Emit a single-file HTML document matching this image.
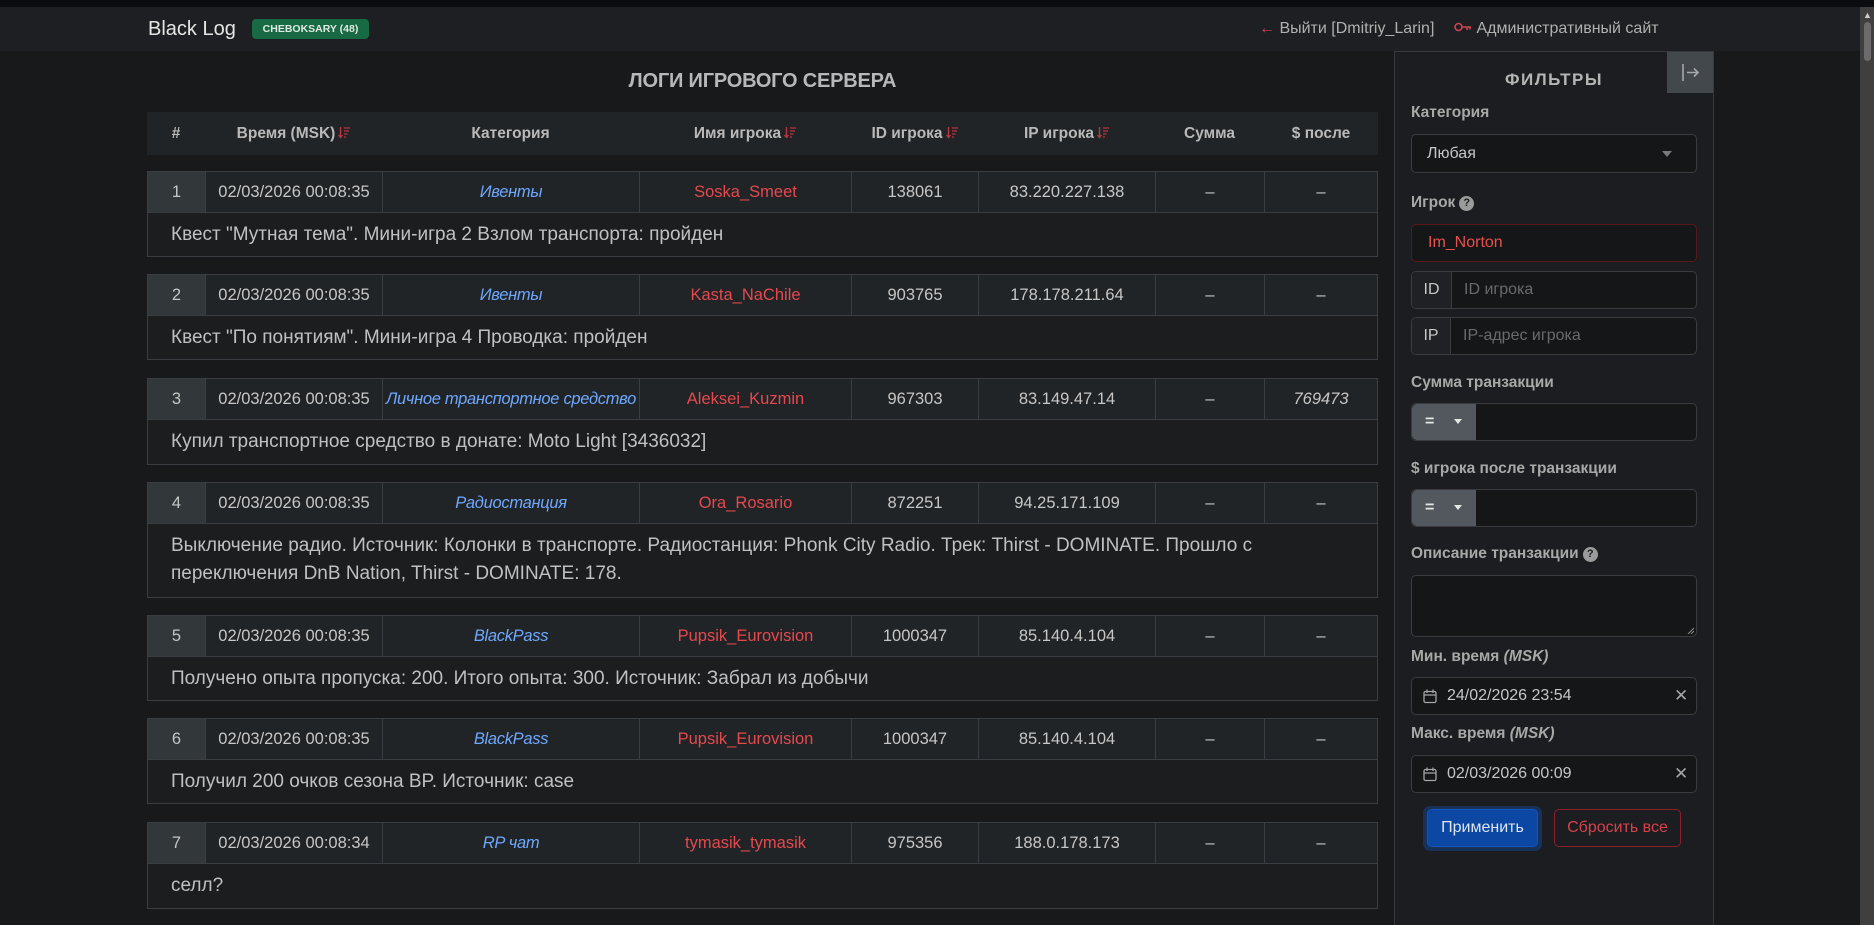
<!DOCTYPE html>
<html><head><meta charset="utf-8">
<style>
*{box-sizing:border-box;margin:0;padding:0}
body{width:1874px;height:925px;overflow:hidden;background:#0b0c10;font-family:"Liberation Sans",sans-serif;position:relative;color:#d0d0d0}
.a{position:absolute}
.win{left:0;top:7px;width:1860px;height:918px;background:#18191b;border-top-left-radius:9px;overflow:hidden}
.nav{left:0;top:0;width:1860px;height:44px;background:#1e1f22}
.sb{left:1860px;top:7px;width:14px;height:918px;background:#3f3f3f}
.thumb{left:1864px;top:22px;width:7px;height:39px;background:#6b6b6b;border-radius:4px}
.brand{left:148px;top:17px;font-size:20px;color:#e6e6e6;line-height:24px}
.badge{left:252px;top:19px;width:117px;height:20px;background:#176a43;border-radius:4px;color:#dfe9e3;font-size:10.5px;font-weight:bold;text-align:center;line-height:20px}
.nl{top:19px;font-size:16px;color:#b0b0b0;line-height:20px;white-space:nowrap}
.title{left:147px;width:1231px;top:68px;text-align:center;font-size:20px;font-weight:bold;color:#b8b8b8;letter-spacing:-0.2px;line-height:26px}
.th{left:147px;top:112px;width:1231px;height:43px;background:#212427;display:flex}
.th div{height:43px;line-height:43px;text-align:center;font-size:15.5px;font-weight:bold;color:#b9b9b9;white-space:nowrap}
.th svg{vertical-align:-1px;margin-left:3px}
.card{left:147px;width:1231px;border:1px solid #3a3d41;background:#1b1d1f}
.hr{display:flex;height:41px;border-bottom:1px solid #3a3d41;background:#212427}
.hr div{height:40px;line-height:40px;text-align:center;font-size:16.5px;color:#c6c6c6;border-right:1px solid #3a3d41;white-space:nowrap;overflow:hidden}
.hr div:last-child{border-right:none}
.hr .n{background:#32373a}
.hr .c{color:#6ea8fe;font-style:italic;letter-spacing:-0.3px}
.hr .p{color:#e5484d}
.bd{padding:0 23px;font-size:19px;color:#c0c0c0;white-space:nowrap}
.w1{width:58px}.w2{width:177px}.w3{width:257px}.w4{width:212px}.w5{width:127px}.w6{width:177px}.w7{width:109px}.w8{width:112px}
.fp{left:1394px;top:51px;width:320px;height:874px;background:#1c1d20;border:1px solid #36393d;border-bottom:none}
.cb{left:1667px;top:52px;width:46px;height:41px;background:#43484c}
.ft{left:1394px;width:320px;top:69px;text-align:center;font-size:17px;font-weight:bold;letter-spacing:1.5px;color:#b5b5b5;line-height:22px}
.lb{left:1411px;font-size:15.5px;font-weight:bold;color:#a8a8a8;line-height:20px;white-space:nowrap}
.inp{left:1411px;width:286px;background:#151618;border:1px solid #3a3c40;border-radius:5px;font-size:16px;color:#c6c6c6;white-space:nowrap}
.q{display:inline-block;width:15px;height:15px;border-radius:50%;background:#9b9b9b;color:#1c1d20;font-size:11px;font-weight:bold;text-align:center;line-height:15px;vertical-align:1px;margin-left:4px}
.addon{position:absolute;left:0;top:0;bottom:0;background:#1f2124;border-right:1px solid #3a3c40;border-radius:5px 0 0 5px;text-align:center;color:#c8c8c8}
.ph{position:absolute;color:#6a6a6a}
.eq{position:absolute;left:0;top:0;bottom:0;width:64px;background:#52585e;border-radius:5px 0 0 5px;color:#e6e6e6}
</style></head><body>
<div class="a win"></div>
<div class="a nav" style="top:7px"></div>
<div class="a sb"></div>
<div class="a thumb"></div>
<div class="a" style="left:1863px;top:10px;font-size:9px;color:#cfcfcf;line-height:10px">&#9650;</div>

<div class="a brand">Black Log</div>
<div class="a badge">CHEBOKSARY (48)</div>
<div class="a nl" style="left:1259px"><span style="color:#d2434f">&#8592;</span> Выйти [Dmitriy_Larin]</div>
<div class="a nl" style="left:1454px"><svg width="18" height="10" viewBox="0 0 18 10" style="vertical-align:1px"><circle cx="4.5" cy="5" r="3.5" fill="none" stroke="#d2434f" stroke-width="1.6"/><path d="M8 5H17M13 5V8M16 5V7.5" stroke="#d2434f" stroke-width="1.6" fill="none"/></svg> Административный сайт</div>

<div class="a title">ЛОГИ ИГРОВОГО СЕРВЕРА</div>

<div class="a th">
<div class="w1">#</div>
<div class="w2">Время (MSK)<svg width="12" height="13" viewBox="0 0 12 13"><path d="M2.5 1V11M0.5 9L2.5 11.5L4.5 9" stroke="#b8343f" stroke-width="1.4" fill="none"/><path d="M6 2H12M6 5H11M6 8H9.5M6 11H8" stroke="#b8343f" stroke-width="1.2"/></svg></div>
<div class="w3">Категория</div>
<div class="w4">Имя игрока<svg width="12" height="13" viewBox="0 0 12 13"><path d="M2.5 1V11M0.5 9L2.5 11.5L4.5 9" stroke="#b8343f" stroke-width="1.4" fill="none"/><path d="M6 2H12M6 5H11M6 8H9.5M6 11H8" stroke="#b8343f" stroke-width="1.2"/></svg></div>
<div class="w5">ID игрока<svg width="12" height="13" viewBox="0 0 12 13"><path d="M2.5 1V11M0.5 9L2.5 11.5L4.5 9" stroke="#b8343f" stroke-width="1.4" fill="none"/><path d="M6 2H12M6 5H11M6 8H9.5M6 11H8" stroke="#b8343f" stroke-width="1.2"/></svg></div>
<div class="w6">IP игрока<svg width="12" height="13" viewBox="0 0 12 13"><path d="M2.5 1V11M0.5 9L2.5 11.5L4.5 9" stroke="#b8343f" stroke-width="1.4" fill="none"/><path d="M6 2H12M6 5H11M6 8H9.5M6 11H8" stroke="#b8343f" stroke-width="1.2"/></svg></div>
<div class="w7">Сумма</div>
<div class="w8" style="width:114px">$ после</div>
</div>

<div class="a card" style="top:171px">
<div class="hr"><div class="w1 n">1</div><div class="w2">02/03/2026 00:08:35</div><div class="w3 c">Ивенты</div><div class="w4 p">Soska_Smeet</div><div class="w5">138061</div><div class="w6">83.220.227.138</div><div class="w7">–</div><div class="w8">–</div></div>
<div class="bd" style="height:43px;line-height:43px">Квест "Мутная тема". Мини-игра 2 Взлом транспорта: пройден</div>
</div>

<div class="a card" style="top:274px">
<div class="hr"><div class="w1 n">2</div><div class="w2">02/03/2026 00:08:35</div><div class="w3 c">Ивенты</div><div class="w4 p">Kasta_NaChile</div><div class="w5">903765</div><div class="w6">178.178.211.64</div><div class="w7">–</div><div class="w8">–</div></div>
<div class="bd" style="height:43px;line-height:43px">Квест "По понятиям". Мини-игра 4 Проводка: пройден</div>
</div>

<div class="a card" style="top:378px">
<div class="hr"><div class="w1 n">3</div><div class="w2">02/03/2026 00:08:35</div><div class="w3 c">Личное транспортное средство</div><div class="w4 p">Aleksei_Kuzmin</div><div class="w5">967303</div><div class="w6">83.149.47.14</div><div class="w7">–</div><div class="w8" style="font-style:italic">769473</div></div>
<div class="bd" style="height:44px;line-height:44px">Купил транспортное средство в донате: Moto Light [3436032]</div>
</div>

<div class="a card" style="top:482px">
<div class="hr"><div class="w1 n">4</div><div class="w2">02/03/2026 00:08:35</div><div class="w3 c">Радиостанция</div><div class="w4 p">Ora_Rosario</div><div class="w5">872251</div><div class="w6">94.25.171.109</div><div class="w7">–</div><div class="w8">–</div></div>
<div class="bd" style="height:73px;line-height:28px;padding-top:8px">Выключение радио. Источник: Колонки в транспорте. Радиостанция: Phonk City Radio. Трек: Thirst - DOMINATE. Прошло с<br>переключения DnB Nation, Thirst - DOMINATE: 178.</div>
</div>

<div class="a card" style="top:615px">
<div class="hr"><div class="w1 n">5</div><div class="w2">02/03/2026 00:08:35</div><div class="w3 c">BlackPass</div><div class="w4 p">Pupsik_Eurovision</div><div class="w5">1000347</div><div class="w6">85.140.4.104</div><div class="w7">–</div><div class="w8">–</div></div>
<div class="bd" style="height:43px;line-height:43px">Получено опыта пропуска: 200. Итого опыта: 300. Источник: Забрал из добычи</div>
</div>

<div class="a card" style="top:718px">
<div class="hr"><div class="w1 n">6</div><div class="w2">02/03/2026 00:08:35</div><div class="w3 c">BlackPass</div><div class="w4 p">Pupsik_Eurovision</div><div class="w5">1000347</div><div class="w6">85.140.4.104</div><div class="w7">–</div><div class="w8">–</div></div>
<div class="bd" style="height:43px;line-height:43px">Получил 200 очков сезона BP. Источник: case</div>
</div>

<div class="a card" style="top:822px">
<div class="hr"><div class="w1 n">7</div><div class="w2">02/03/2026 00:08:34</div><div class="w3 c">RP чат</div><div class="w4 p">tymasik_tymasik</div><div class="w5">975356</div><div class="w6">188.0.178.173</div><div class="w7">–</div><div class="w8">–</div></div>
<div class="bd" style="height:44px;line-height:44px">селл?</div>
</div>

<!-- Filter panel -->
<div class="a fp"></div>
<div class="a cb"><svg width="46" height="41" viewBox="0 0 46 41"><path d="M16 12V29" stroke="#a8a8a8" stroke-width="1.6"/><path d="M20 20.5H31M27 16.5L31 20.5L27 24.5" stroke="#a8a8a8" stroke-width="1.6" fill="none"/></svg></div>
<div class="a ft">ФИЛЬТРЫ</div>

<div class="a lb" style="top:103px">Категория</div>
<div class="a inp" style="top:134px;height:39px;line-height:37px;padding-left:15px">Любая<svg class="a" style="left:250px;top:16px" width="10" height="6" viewBox="0 0 10 6"><path d="M0 0H10L5 6Z" fill="#7a7a7a"/></svg></div>

<div class="a lb" style="top:193px">Игрок<span class="q">?</span></div>
<div class="a inp" style="top:224px;height:38px;line-height:36px;padding-left:16px;border-color:#5a181c;color:#e8504f">Im_Norton</div>

<div class="a inp" style="top:271px;height:38px;line-height:36px"><div class="addon" style="width:40px">ID</div><div class="ph" style="left:52px">ID игрока</div></div>
<div class="a inp" style="top:317px;height:38px;line-height:36px"><div class="addon" style="width:39px">IP</div><div class="ph" style="left:51px">IP-адрес игрока</div></div>

<div class="a lb" style="top:373px">Сумма транзакции</div>
<div class="a inp" style="top:403px;height:38px;line-height:36px"><div class="eq"><span class="a" style="left:13px;font-weight:bold">=</span><svg class="a" style="left:42px;top:15px" width="8" height="5" viewBox="0 0 8 5"><path d="M0 0H8L4 5Z" fill="#e6e6e6"/></svg></div></div>

<div class="a lb" style="top:459px">$ игрока после транзакции</div>
<div class="a inp" style="top:489px;height:38px;line-height:36px"><div class="eq"><span class="a" style="left:13px;font-weight:bold">=</span><svg class="a" style="left:42px;top:15px" width="8" height="5" viewBox="0 0 8 5"><path d="M0 0H8L4 5Z" fill="#e6e6e6"/></svg></div></div>

<div class="a lb" style="top:544px">Описание транзакции<span class="q">?</span></div>
<div class="a inp" style="top:575px;height:62px"><svg class="a" style="right:2px;bottom:2px" width="7" height="7" viewBox="0 0 7 7"><path d="M7 1L1 7M7 4L4 7" stroke="#8a8a8a" stroke-width="1"/></svg></div>

<div class="a lb" style="top:647px">Мин. время <i>(MSK)</i></div>
<div class="a inp" style="top:677px;height:38px;line-height:36px;padding-left:35px">24/02/2026 23:54<svg class="a" style="left:11px;top:11px" width="14" height="15" viewBox="0 0 14 15"><rect x="1" y="2.5" width="12" height="11" rx="1.5" fill="none" stroke="#a5a5a5" stroke-width="1.3"/><path d="M1 6H13M4 0.5V4M10 0.5V4" stroke="#a5a5a5" stroke-width="1.3"/></svg><span class="a" style="left:262px;color:#a5a5a5;font-size:17px">&#10005;</span></div>

<div class="a lb" style="top:724px">Макс. время <i>(MSK)</i></div>
<div class="a inp" style="top:755px;height:38px;line-height:36px;padding-left:35px">02/03/2026 00:09<svg class="a" style="left:11px;top:11px" width="14" height="15" viewBox="0 0 14 15"><rect x="1" y="2.5" width="12" height="11" rx="1.5" fill="none" stroke="#a5a5a5" stroke-width="1.3"/><path d="M1 6H13M4 0.5V4M10 0.5V4" stroke="#a5a5a5" stroke-width="1.3"/></svg><span class="a" style="left:262px;color:#a5a5a5;font-size:17px">&#10005;</span></div>

<div class="a" style="left:1423px;top:806px;width:119px;height:45px;border-radius:7px;background:#173159"></div>
<div class="a" style="left:1427px;top:809px;width:111px;height:38px;border-radius:5px;background:#0b47a3;border:1px solid #1356bb;color:#dde5f2;font-size:16px;text-align:center;line-height:36px">Применить</div>
<div class="a" style="left:1554px;top:809px;width:127px;height:38px;border-radius:5px;border:1px solid #8c1f29;color:#d8414c;font-size:16px;text-align:center;line-height:36px">Сбросить все</div>
</body></html>
